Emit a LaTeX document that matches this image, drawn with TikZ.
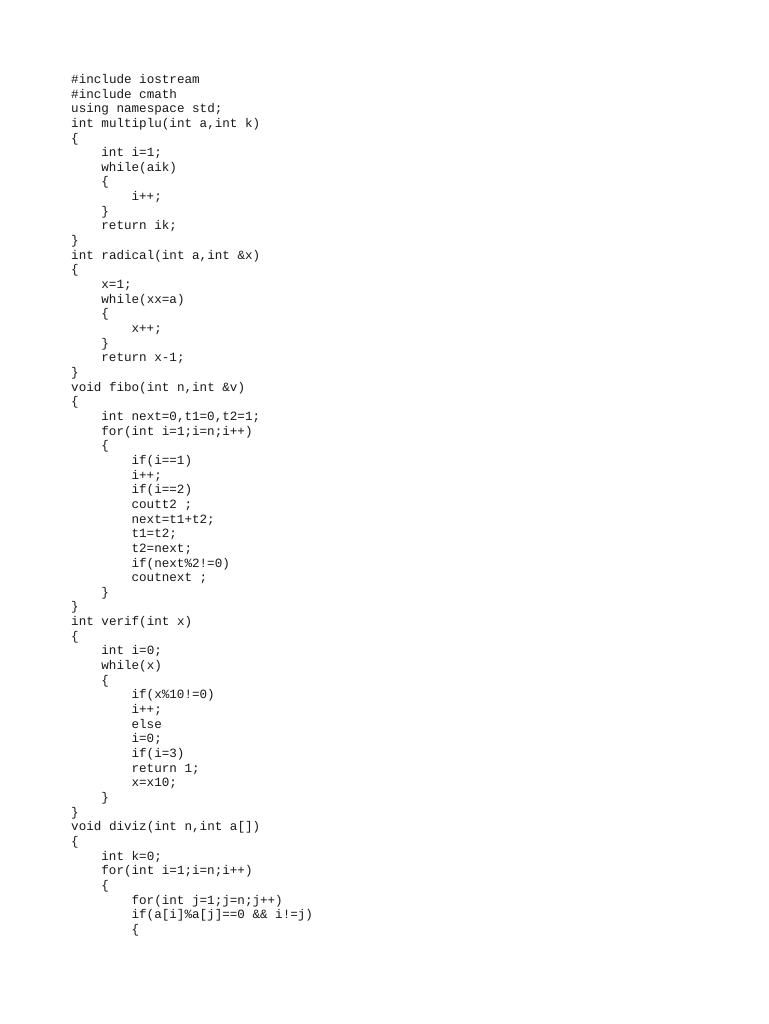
\documentclass[tikz,border=0pt]{standalone}
\usepackage{fontspec}
\newfontfamily\codefont{Liberation Mono}
\tikzset{codeline/.style={anchor=base west, inner sep=0pt, font=\codefont\fontsize{12.6}{14.65}\selectfont, text=black!90}}
\begin{document}
\begin{tikzpicture}[x=1pt,y=-1pt]
\fill[white] (0,0) rectangle (768,1024);
\useasboundingbox (0,0) rectangle (768,1024);
\def\lh{14.655}
\def\by{83.4}
\newcommand\cl[3]{\node[codeline] (l#1) at ({71+30.2*#2},{\by+(#1-1)*\lh}) {#3};}
\cl{1}{0}{\#include iostream}
\cl{2}{0}{\#include cmath}
\cl{3}{0}{using namespace std;}
\cl{4}{0}{int multiplu(int a,int k)}
\cl{5}{0}{\{}
\cl{6}{1}{int i=1;}
\cl{7}{1}{while(aik)}
\cl{8}{1}{\{}
\cl{9}{2}{i++;}
\cl{10}{1}{\}}
\cl{11}{1}{return ik;}
\cl{12}{0}{\}}
\cl{13}{0}{int radical(int a,int \&x)}
\cl{14}{0}{\{}
\cl{15}{1}{x=1;}
\cl{16}{1}{while(xx=a)}
\cl{17}{1}{\{}
\cl{18}{2}{x++;}
\cl{19}{1}{\}}
\cl{20}{1}{return x-1;}
\cl{21}{0}{\}}
\cl{22}{0}{void fibo(int n,int \&v)}
\cl{23}{0}{\{}
\cl{24}{1}{int next=0,t1=0,t2=1;}
\cl{25}{1}{for(int i=1;i=n;i++)}
\cl{26}{1}{\{}
\cl{27}{2}{if(i==1)}
\cl{28}{2}{i++;}
\cl{29}{2}{if(i==2)}
\cl{30}{2}{coutt2 ;}
\cl{31}{2}{next=t1+t2;}
\cl{32}{2}{t1=t2;}
\cl{33}{2}{t2=next;}
\cl{34}{2}{if(next\%2!=0)}
\cl{35}{2}{coutnext ;}
\cl{36}{1}{\}}
\cl{37}{0}{\}}
\cl{38}{0}{int verif(int x)}
\cl{39}{0}{\{}
\cl{40}{1}{int i=0;}
\cl{41}{1}{while(x)}
\cl{42}{1}{\{}
\cl{43}{2}{if(x\%10!=0)}
\cl{44}{2}{i++;}
\cl{45}{2}{else}
\cl{46}{2}{i=0;}
\cl{47}{2}{if(i=3)}
\cl{48}{2}{return 1;}
\cl{49}{2}{x=x10;}
\cl{50}{1}{\}}
\cl{51}{0}{\}}
\cl{52}{0}{void diviz(int n,int a[])}
\cl{53}{0}{\{}
\cl{54}{1}{int k=0;}
\cl{55}{1}{for(int i=1;i=n;i++)}
\cl{56}{1}{\{}
\cl{57}{2}{for(int j=1;j=n;j++)}
\cl{58}{2}{if(a[i]\%a[j]==0 \&\& i!=j)}
\cl{59}{2}{\{}
\end{tikzpicture}
\end{document}
